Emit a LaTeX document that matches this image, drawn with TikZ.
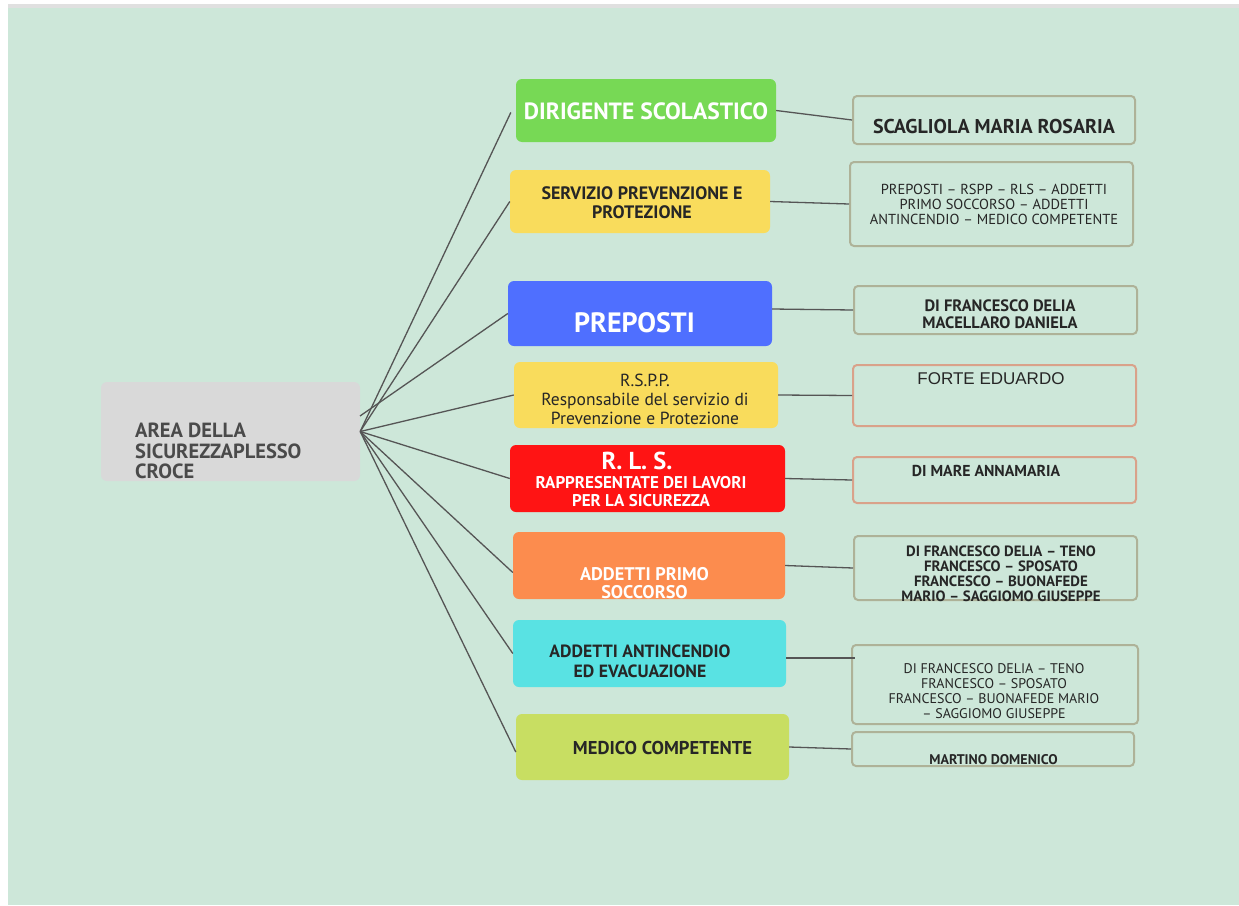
\documentclass[tikz,border=0pt]{standalone}
\usepackage{fontspec}
\setmainfont{PT Sans}
\newfontfamily\arialf{Liberation Sans}
\usetikzlibrary{calc}
\definecolor{bg}{HTML}{CDE7D9}
\definecolor{areagray}{HTML}{D9D9D9}
\definecolor{dirgreen}{HTML}{77D955}
\definecolor{sunyellow}{HTML}{F9DC5C}
\definecolor{royalblue}{HTML}{4F6FFF}
\definecolor{firered}{HTML}{FF1414}
\definecolor{warmorange}{HTML}{FC8C4E}
\definecolor{aqua}{HTML}{59E2E3}
\definecolor{limeg}{HTML}{C8DE62}
\definecolor{olivebd}{HTML}{AEB298}
\definecolor{salmonbd}{HTML}{D9A28A}
\definecolor{darktxt}{HTML}{262626}
\definecolor{areatxt}{HTML}{4A4A4A}
\definecolor{linkc}{HTML}{555555}
\begin{document}
\begin{tikzpicture}[x=1pt,y=-1pt,
  cbox/.style={rounded corners=6pt, inner sep=0pt},
  rbox/.style={draw=olivebd, line width=2pt, rounded corners=4pt, inner sep=0pt},
  obox/.style={draw=salmonbd, line width=2pt, rounded corners=4pt, inner sep=0pt},
  txt/.style={inner sep=0pt, align=center, text=darktxt},
  link/.style={draw=linkc, line width=1.3pt}]
\useasboundingbox (0,0) rectangle (1239,905);
\fill[white] (0,0) rectangle (1239,905);
\fill[black!12] (8,4) rectangle (1239,8);
\fill[bg] (8,8) rectangle (1239,905);

% centre box
\node[cbox, fill=areagray, minimum width=259pt, minimum height=99pt] (area) at (230.5,431.5) {};
\node[txt, anchor=west, align=left, text=areatxt, font=\fontsize{20.5}{20.5}\selectfont\bfseries] (areat) at (135,451) {AREA DELLA\\SICUREZZAPLESSO\\CROCE};
\coordinate (hub) at (area.east);
\coordinate (hubb) at (360,416);

% coloured boxes
\node[cbox, fill=dirgreen, minimum width=260pt, minimum height=63pt] (dir) at (646,110.5) {};
\node[cbox, fill=sunyellow, minimum width=260pt, minimum height=63pt] (spp) at (640,201.5) {};
\node[cbox, fill=royalblue, minimum width=264pt, minimum height=65pt] (prep) at (640,313.5) {};
\node[cbox, fill=sunyellow, minimum width=264pt, minimum height=66pt] (rspp) at (646,395) {};
\node[cbox, fill=firered, minimum width=275pt, minimum height=67pt] (rls) at (647.5,478.5) {};
\node[cbox, fill=warmorange, minimum width=272pt, minimum height=67pt] (primo) at (649,565.5) {};
\node[cbox, fill=aqua, minimum width=273pt, minimum height=67pt] (antinc) at (649.5,653.5) {};
\node[cbox, fill=limeg, minimum width=273pt, minimum height=66pt] (medico) at (652.5,747) {};

% texts in coloured boxes
\node[txt, text=white, font=\fontsize{23.5}{26}\selectfont\bfseries] (dirt) at (646,111) {DIRIGENTE SCOLASTICO};
\node[txt, font=\fontsize{18}{19}\selectfont\bfseries] (sppt) at (642,203) {SERVIZIO PREVENZIONE E\\PROTEZIONE};
\node[txt, text=white, font=\fontsize{28}{30}\selectfont\bfseries] (prept) at (634.5,323) {PREPOSTI};
\node[txt, font=\fontsize{17.5}{19}\selectfont] (rsppt) at (645,399) {R.S.P.P.\\Responsabile del servizio di\\Prevenzione e Protezione};
\node[txt, text=white, font=\fontsize{24.5}{26}\selectfont\bfseries] (rlst) at (637,461) {R. L. S.};
\node[txt, text=white, font=\fontsize{17}{18}\selectfont\bfseries] (rlss) at (641,492) {RAPPRESENTATE DEI LAVORI\\PER LA SICUREZZA};
\node[txt, text=white, font=\fontsize{18.3}{18}\selectfont\bfseries] (primot) at (644.5,583) {ADDETTI PRIMO\\SOCCORSO};
\node[txt, font=\fontsize{17.7}{20}\selectfont\bfseries] (antinct) at (640,661) {ADDETTI ANTINCENDIO\\ED EVACUAZIONE};
\node[txt, font=\fontsize{18.6}{18}\selectfont\bfseries] (medicot) at (662.5,748) {MEDICO COMPETENTE};

% right boxes
\node[rbox, minimum width=282pt, minimum height=48pt] (r1) at (994,120) {};
\node[rbox, minimum width=283pt, minimum height=84pt] (r2) at (991.5,204) {};
\node[rbox, minimum width=283pt, minimum height=48pt] (r3) at (995.5,310) {};
\node[obox, minimum width=283pt, minimum height=61pt] (r4) at (994.5,395.5) {};
\node[obox, minimum width=283pt, minimum height=46pt] (r5) at (994.5,480) {};
\node[rbox, minimum width=283pt, minimum height=64pt] (r6) at (995.5,568) {};
\node[rbox, minimum width=286pt, minimum height=79pt] (r7) at (995,684.5) {};
\node[rbox, minimum width=282pt, minimum height=34pt] (r8) at (993,749) {};

% right texts
\node[txt, font=\fontsize{20}{20}\selectfont\bfseries] (r1t) at (994,126) {SCAGLIOLA MARIA ROSARIA};
\node[txt, font=\fontsize{14.5}{15}\selectfont] (r2t) at (994,204) {PREPOSTI – RSPP – RLS – ADDETTI\\PRIMO SOCCORSO – ADDETTI\\ANTINCENDIO – MEDICO COMPETENTE};
\node[txt, font=\fontsize{16.5}{17}\selectfont\bfseries] (r3t) at (1000,314) {DI FRANCESCO DELIA\\MACELLARO DANIELA};
\node[txt, font=\fontsize{17}{19}\selectfont\arialf] (r4t) at (991,379) {FORTE EDUARDO};
\node[txt, font=\fontsize{15.8}{17}\selectfont\bfseries] (r5t) at (986,471) {DI MARE ANNAMARIA};
\node[txt, font=\fontsize{14.9}{15}\selectfont\bfseries] (r6t) at (1001,574) {DI FRANCESCO DELIA – TENO\\FRANCESCO – SPOSATO\\FRANCESCO – BUONAFEDE\\MARIO – SAGGIOMO GIUSEPPE};
\node[txt, font=\fontsize{14}{15}\selectfont] (r7t) at (994,691) {DI FRANCESCO DELIA – TENO\\FRANCESCO – SPOSATO\\FRANCESCO – BUONAFEDE MARIO\\– SAGGIOMO GIUSEPPE};
\node[txt, font=\fontsize{14}{15}\selectfont\bfseries] (r8t) at (993.5,760) {MARTINO DOMENICO};

% connectors: hub to coloured boxes
\draw[link] (hub) -- ([xshift=-5pt,yshift=-2pt]dir.west);
\draw[link] (hub) -- (spp.west);
\draw[link] (hubb) -- (prep.west);
\draw[link] (hub) -- (rspp.west);
\draw[link] (hub) -- (rls.west);
\draw[link] (hub) -- ([yshift=-7pt]primo.west);
\draw[link] (hub) -- (antinc.west);
\draw[link] (hub) -- ([yshift=-5pt]medico.west);

% connectors: coloured boxes to right boxes
\draw[link] (dir.east) -- (r1.west);
\draw[link] (spp.east) -- (r2.west);
\draw[link] ([yshift=4.5pt]prep.east) -- ([yshift=0pt]r3.west);
\draw[link] (rspp.east) -- (r4.west);
\draw[link] (rls.east) -- (r5.west);
\draw[link] (primo.east) -- (r6.west);
\draw[link, line width=2.2pt] ([yshift=-4.5pt]antinc.east) -- ([xshift=4pt,yshift=26.5pt]r7.west);
\draw[link] (medico.east) -- (r8.west);
\end{tikzpicture}
\end{document}
